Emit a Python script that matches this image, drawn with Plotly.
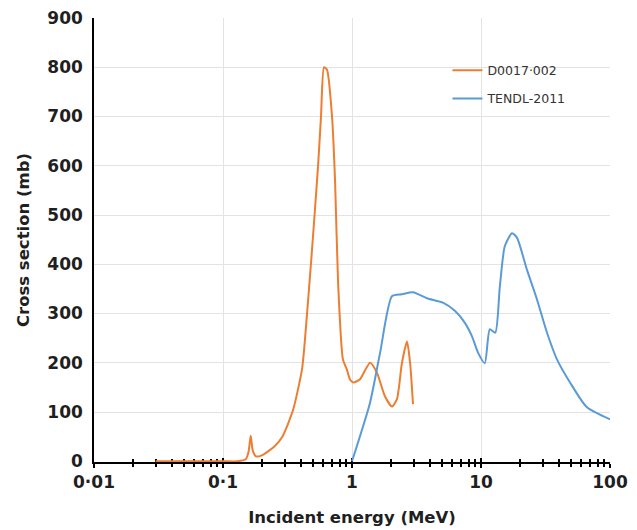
import plotly.graph_objects as go

# Measured excitation function D0017-002 (incident energy in MeV, cross section in mb)
d0017_energy = [0.03, 0.06, 0.10, 0.13, 0.15, 0.158, 0.164, 0.170, 0.180, 0.20, 0.25, 0.29,
                0.35, 0.41, 0.43, 0.49, 0.545, 0.575, 0.607, 0.64, 0.70, 0.74, 0.78,
                0.85, 0.91, 0.965, 1.02, 1.15, 1.38, 1.56, 1.80, 2.04, 2.23, 2.44, 2.67,
                2.82, 2.97]
d0017_xs = [0, 0, 0, 0, 4, 20, 52, 22, 10, 12, 30, 51,
            105, 187, 241, 430, 598, 700, 800, 795, 700, 565, 363,
            207, 187, 166, 160, 166, 200, 180, 132, 111, 126, 200, 243,
            200, 116]

# TENDL-2011 evaluation
tendl_energy = [1.0, 1.38, 1.65, 2.04, 2.44, 2.97, 3.81, 5.07, 6.3, 7.5, 8.5, 9.5, 10.7,
                11.7, 12.9, 14.0, 15.3, 17.4, 19.0, 22.7, 27.2, 32.5, 38.8, 49.0, 66.0, 100.0]
tendl_xs = [0, 119, 220, 335, 339, 343, 331, 322, 305, 281, 254, 220, 199,
            268, 261, 355, 437, 463, 454, 389, 328, 261, 207, 160, 110, 85]

x_tick_vals = [0.01, 0.1, 1, 10, 100]
x_tick_text = ["0·01", "0·1", "1", "10", "100"]
minor_vals = [m * 10 ** d for d in range(-2, 2) for m in range(2, 10)]

FONT = "'DejaVu Sans', sans-serif"
ORANGE = "#ED7D31"
BLUE = "#5B9BD5"
TEXT = "#1f1f1f"

fig = go.Figure()
fig.add_trace(go.Scatter(
    x=d0017_energy, y=d0017_xs, mode="lines", name="D0017·002",
    line=dict(color=ORANGE, width=2, shape="spline", smoothing=0.6),
    legendgroup="a",
))
fig.add_trace(go.Scatter(
    x=tendl_energy, y=tendl_xs, mode="lines", name="TENDL-2011",
    line=dict(color=BLUE, width=2, shape="spline", smoothing=0.6),
    legendgroup="b",
))
# invisible trace carrying the inward half of the crossing tick marks
fig.add_trace(go.Scatter(x=[0.01, 100], y=[None, None], xaxis="x2", showlegend=False,
                         hoverinfo="skip"))

fig.update_layout(
    width=637, height=530,
    margin=dict(l=94, r=27, t=18, b=68),
    paper_bgcolor="white", plot_bgcolor="white",
    font=dict(family=FONT, color=TEXT),
    showlegend=True,
    legend=dict(x=0.685, y=0.915, xanchor="left", yanchor="top",
                bgcolor="rgba(0,0,0,0)", font=dict(size=12.5, family=FONT, color="#333333"),
                tracegroupgap=9, itemwidth=30),
    xaxis=dict(
        type="log", range=[-2, 2], automargin=False,
        tickmode="array", tickvals=x_tick_vals, ticktext=x_tick_text,
        tickfont=dict(size=17, family=FONT, weight="bold", color=TEXT),
        showgrid=True, gridcolor="#e3e3e3", gridwidth=1,
        showline=True, linecolor="black", linewidth=1.5,
        ticks="outside", ticklen=4, tickwidth=1.5, tickcolor="black",
        minor=dict(tickmode="array", tickvals=minor_vals, ticks="outside",
                   ticklen=3, tickwidth=1.5, tickcolor="black", showgrid=False),
        title=dict(text="Incident energy (MeV)", standoff=20,
                   font=dict(size=16.5, family=FONT, weight="bold", color=TEXT)),
        zeroline=False, layer="below traces",
    ),
    xaxis2=dict(
        type="log", range=[-2, 2], overlaying="x", anchor="y", side="bottom",
        tickmode="array", tickvals=x_tick_vals, showticklabels=False,
        showgrid=False, showline=False, zeroline=False,
        ticks="inside", ticklen=4, tickwidth=1.5, tickcolor="black",
        minor=dict(tickmode="array", tickvals=minor_vals, ticks="inside",
                   ticklen=3, tickwidth=1.5, tickcolor="black", showgrid=False),
        layer="below traces",
    ),
    yaxis=dict(
        range=[-1.5, 900], automargin=False,
        tickmode="array", tickvals=list(range(0, 901, 100)),
        tickfont=dict(size=17, family=FONT, weight="bold", color=TEXT),
        showgrid=True, gridcolor="#e3e3e3", gridwidth=1,
        showline=True, linecolor="black", linewidth=1.5,
        ticks="", zeroline=False, ticklabelstandoff=6,
        title=dict(text="Cross section (mb)", standoff=14,
                   font=dict(size=16.5, family=FONT, weight="bold", color=TEXT)),
    ),
)

fig.write_html("out.html")
